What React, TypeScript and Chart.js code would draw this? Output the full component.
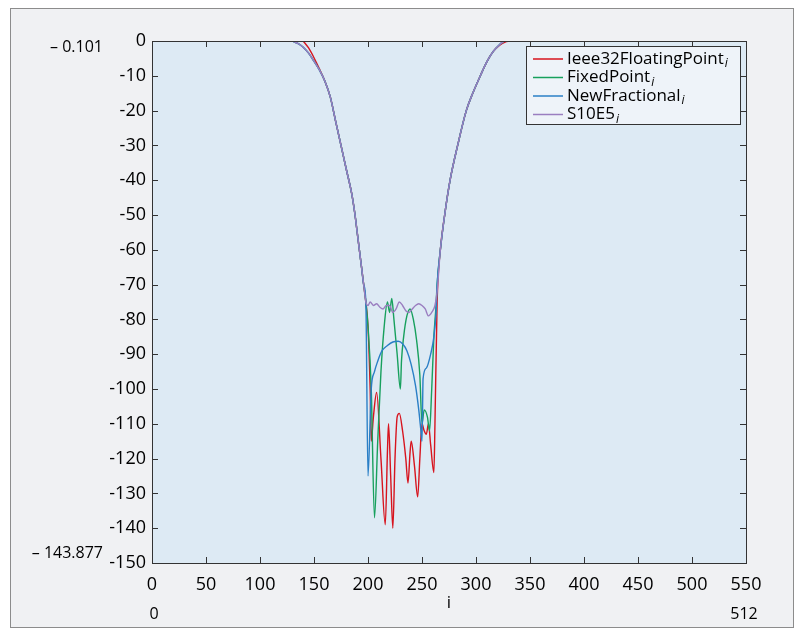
import React, { useEffect, useRef } from "react";
import { Chart, registerables } from "chart.js";

Chart.register(...registerables);

// ---- data (dB response vs sample index i) ----
const ieeeI = [140, 145, 150, 155, 160, 165, 170, 175, 180, 185, 188, 190, 192, 194, 196, 198, 200, 202, 203, 205, 208, 212, 216, 218, 219, 221, 223, 225, 227, 229, 232, 235, 237, 239, 240, 243, 246, 248, 250, 252, 254, 256, 258, 261, 262, 264, 267, 271, 276, 283, 291, 297, 304, 310, 316, 322, 327, 331];
const ieeeDb = [0, -2.0, -4.8, -8, -11.5, -16, -23, -30, -37, -44, -50, -55, -60, -65, -70, -75, -82, -100, -115, -108, -101, -120, -139, -118, -110, -125, -140, -120, -108, -107, -112, -120, -127, -118, -115, -122, -131, -120, -110, -112, -113, -110, -116, -124, -110, -75, -60, -50, -40, -30, -20, -15, -10, -6, -3, -1.2, -0.3, 0];

const fixedI = [130, 135, 140, 145, 150, 155, 160, 165, 170, 175, 180, 185, 188, 190, 192, 194, 196, 198, 200, 203, 206, 209, 212, 215, 218, 220, 222, 224, 227, 230, 231, 233, 236, 239, 242, 245, 248, 250, 252, 255, 257, 259, 261, 263, 264, 267, 271, 276, 283, 291, 297, 304, 310, 316, 322, 326];
const fixedDb = [0, -0.7, -1.8, -3.5, -5.8, -8.3, -11.5, -16, -23, -30, -37, -44, -50, -55, -60, -65, -70, -75, -82, -100, -137, -115, -95, -82, -75, -78, -74, -80, -90, -100, -92, -85, -79, -77, -80, -86, -96, -110, -106, -108, -112, -100, -85, -76, -70, -60, -50, -40, -30, -20, -15, -10, -6, -3, -1, 0];

const fracI = [130, 135, 140, 145, 150, 155, 160, 165, 170, 175, 180, 185, 188, 190, 192, 194, 196, 198, 200, 203, 206, 209, 213, 218, 223, 228, 232, 236, 240, 244, 247, 249, 250, 251, 254, 258, 261, 263, 264, 267, 271, 276, 283, 291, 297, 304, 310, 316, 322, 326];
const fracDb = [0, -0.7, -1.8, -3.5, -5.8, -8.3, -11.5, -16, -23, -30, -37, -44, -50, -55, -60, -65, -70, -75, -125, -100, -95, -92, -89, -87.5, -86.5, -86.3, -87, -89, -93, -99, -106, -112, -115, -97, -94, -90, -85, -78, -70, -60, -50, -40, -30, -20, -15, -10, -6, -3, -1, 0];

const s10e5I = [130, 135, 140, 145, 150, 155, 160, 165, 170, 175, 180, 185, 188, 190, 192, 194, 196, 198, 200, 202, 205, 208, 211, 214, 217, 220, 223, 226, 229, 232, 235, 238, 241, 244, 247, 250, 253, 256, 259, 262, 264, 267, 271, 276, 283, 291, 297, 304, 310, 316, 322, 326];
const s10e5Db = [0, -0.7, -1.8, -3.5, -5.8, -8.3, -11.5, -16, -23, -30, -37, -44, -50, -55, -60, -65, -70, -75, -76, -75, -76, -75.5, -76.5, -77, -76, -76, -78, -77, -75, -76, -77.5, -78, -77, -76, -75.5, -76, -77, -79, -78, -76, -72, -60, -50, -40, -30, -20, -15, -10, -6, -3, -1, 0];

const seriesLabels = ["Ieee32FloatingPoint", "FixedPoint", "NewFractional", "S10E5"];
const seriesColors = ["#d7141e", "#17a05d", "#2a7fc6", "#9a7ec0"];

const xMin = 0, xMax = 550, xStep = 50;
const yMin = -150, yMax = 0, yStep = 10;
const maxLabel = "\u2013 0.101";
const minLabel = "\u2013 143.877";
const xStartLabel = "0";
const xEndLabel = "512";
const xTitle = "i";

const FONT = '"Open Sans", "Noto Sans", sans-serif';

const zip = (xs: number[], ys: number[]) => xs.map((x, k) => ({ x, y: ys[k] }));

const framePlugin = {
  id: "frame",
  beforeDraw(chart: any) {
    const { ctx, chartArea } = chart;
    ctx.save();
    ctx.fillStyle = "#ffffff";
    ctx.fillRect(0, 0, chart.width, chart.height);
    ctx.fillStyle = "#f0f1f3";
    ctx.fillRect(10, 8, 784, 620);
    ctx.strokeStyle = "#8c8c8c";
    ctx.lineWidth = 1;
    ctx.strokeRect(10.5, 8.5, 783, 619);
    ctx.fillStyle = "#ddeaf4";
    ctx.fillRect(chartArea.left, chartArea.top, chartArea.right - chartArea.left, chartArea.bottom - chartArea.top);
    ctx.restore();
  },
  afterDatasetsDraw(chart: any) {
    const { ctx, chartArea, scales } = chart;
    const { left, right, top, bottom } = chartArea;
    ctx.save();
    ctx.strokeStyle = "#333333";
    ctx.lineWidth = 1;
    ctx.beginPath();
    scales.y.ticks.forEach((t: any) => {
      const y = Math.round(scales.y.getPixelForValue(t.value)) + 0.5;
      ctx.moveTo(left, y); ctx.lineTo(left + 6, y);
      ctx.moveTo(right, y); ctx.lineTo(right - 6, y);
    });
    scales.x.ticks.forEach((t: any) => {
      const x = Math.round(scales.x.getPixelForValue(t.value)) + 0.5;
      ctx.moveTo(x, bottom); ctx.lineTo(x, bottom - 6);
      ctx.moveTo(x, top); ctx.lineTo(x, top + 6);
    });
    ctx.stroke();
    ctx.strokeRect(Math.round(left) + 0.5, Math.round(top) + 0.5, Math.round(right - left), Math.round(bottom - top));

    // legend
    const lx = 526.5, ly = 46.5, lw = 214, lh = 78;
    ctx.fillStyle = "#eef3f9";
    ctx.fillRect(lx, ly, lw, lh);
    ctx.strokeRect(lx, ly, lw, lh);
    chart.data.datasets.forEach((ds: any, k: number) => {
      const y = 59 + k * 18.5;
      ctx.strokeStyle = ds.borderColor;
      ctx.lineWidth = 1.5;
      ctx.beginPath();
      ctx.moveTo(533, y); ctx.lineTo(563, y);
      ctx.stroke();
      ctx.fillStyle = "#000";
      ctx.textBaseline = "middle";
      ctx.textAlign = "left";
      ctx.font = `17px ${FONT}`;
      ctx.fillText(ds.label, 567, y);
      const tw = ctx.measureText(ds.label).width;
      ctx.font = `italic 12px ${FONT}`;
      ctx.fillText("i", 567 + tw + 1, y + 5);
    });

    // extra annotations
    ctx.fillStyle = "#000";
    ctx.font = `16px ${FONT}`;
    ctx.textAlign = "right";
    ctx.textBaseline = "middle";
    ctx.fillText(maxLabel, 103, top + 6);
    ctx.fillText(minLabel, 103, bottom - 10);
    ctx.textAlign = "center";
    ctx.fillText(xStartLabel, left + 2, 614);
    ctx.fillText(xEndLabel, right - 2, 614);
    ctx.font = `17px ${FONT}`;
    ctx.fillText(xTitle, (left + right) / 2, 603);
    ctx.restore();
  },
};

export default function App() {
  const ref = useRef<HTMLCanvasElement | null>(null);
  useEffect(() => {
    document.body.style.margin = "0";
    let chart: Chart | null = null;
    let cancelled = false;
    const make = () => {
      if (cancelled || !ref.current) return;
      chart = new Chart(ref.current, {
        type: "line",
        data: {
          datasets: [
            { label: seriesLabels[0], data: zip(ieeeI, ieeeDb), borderColor: seriesColors[0], order: 3 },
            { label: seriesLabels[1], data: zip(fixedI, fixedDb), borderColor: seriesColors[1], order: 2 },
            { label: seriesLabels[2], data: zip(fracI, fracDb), borderColor: seriesColors[2], order: 1 },
            { label: seriesLabels[3], data: zip(s10e5I, s10e5Db), borderColor: seriesColors[3], order: 0 },
          ].map((d) => ({ ...d, borderWidth: 1.4, pointRadius: 0, cubicInterpolationMode: "monotone", fill: false })),
        },
        options: {
          animation: false,
          responsive: false,
          devicePixelRatio: 1,
          layout: { padding: { left: 0, right: 51, top: 41, bottom: 0 } },
          plugins: { legend: { display: false }, tooltip: { enabled: false } },
          scales: {
            x: {
              type: "linear",
              min: xMin,
              max: xMax,
              ticks: { stepSize: xStep, color: "#000", font: { family: FONT, size: 18 }, padding: 11, maxRotation: 0 },
              grid: { display: false, drawTicks: false },
              border: { display: false },
              afterFit: (s: any) => { s.height = 72; },
            },
            y: {
              type: "linear",
              min: yMin,
              max: yMax,
              ticks: { stepSize: yStep, color: "#000", font: { family: FONT, size: 18 }, padding: 6 },
              grid: { display: false, drawTicks: false },
              border: { display: false },
              afterFit: (s: any) => { s.width = 152; },
            },
          },
        },
        plugins: [framePlugin],
      } as any);
    };
    (document as any).fonts ? (document as any).fonts.load(`17px "Open Sans"`).then(make, make) : make();
    return () => {
      cancelled = true;
      if (chart) chart.destroy();
    };
  }, []);
  return <canvas ref={ref} width={797} height={635} style={{ display: "block", width: 797, height: 635 }} />;
}
